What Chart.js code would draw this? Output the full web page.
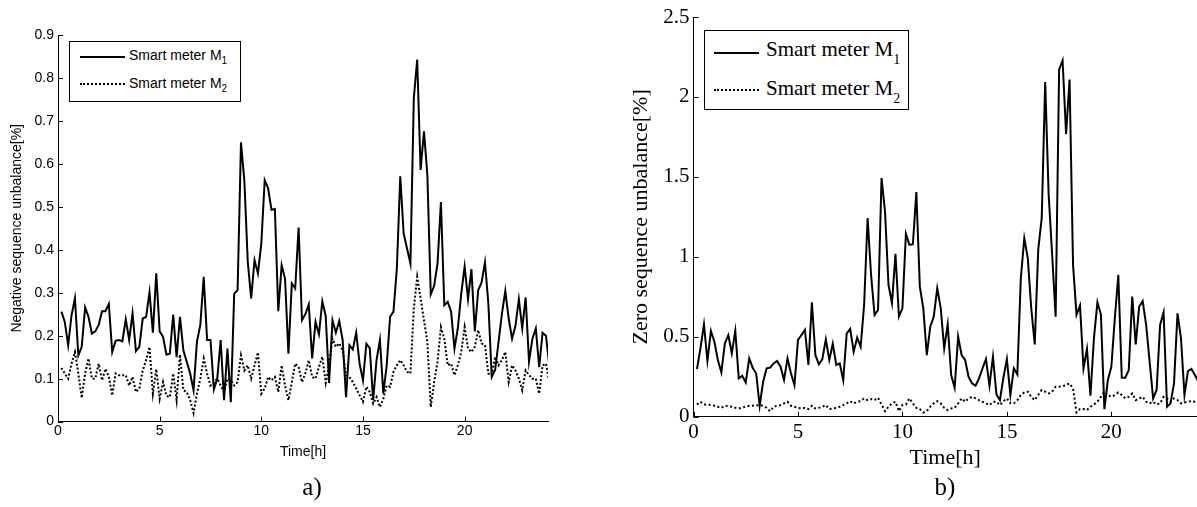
<!DOCTYPE html>
<html>
<head>
<meta charset="utf-8">
<script src="https://cdn.jsdelivr.net/npm/chart.js@4.4.1/dist/chart.umd.min.js"></script>
<style>
  html, body { margin: 0; padding: 0; background: #fff; }
  #wrap { position: relative; width: 1197px; height: 507px; overflow: hidden; background: #fff; }
  canvas { position: absolute; top: 0; }
  #negCanvas { left: 0; }
  #zeroCanvas { left: 600px; }
  .legend { position: absolute; border: 1px solid #000; background: #fff; box-sizing: border-box; color: #000; }
  .legend .swatch { position: absolute; height: 0; border-top: 2px solid #000; }
  .legend .swatch.dot { border-top-style: dotted; }
  .legend .lbl { position: absolute; white-space: nowrap; }
  #legendA { left: 69px; top: 41px; width: 172px; height: 61px; font: 14px "Liberation Sans", Arial, sans-serif; }
  #legendA .lbl { line-height: 18px; }
  #legendA sub { font-size: 10px; vertical-align: -4px; line-height: 0; }
  #legendB { left: 704px; top: 30px; width: 205px; height: 80px; font: 21px "Liberation Serif", "Times New Roman", serif; }
  #legendB .lbl { line-height: 24px; }
  #legendB sub { font-size: 14px; vertical-align: -8px; line-height: 0; }
  .cap { position: absolute; width: 60px; text-align: center; font: 25px "Liberation Serif", "Times New Roman", serif; color: #000; }
</style>
</head>
<body>
<div id="wrap">
  <canvas id="negCanvas" width="560" height="507"></canvas>
  <canvas id="zeroCanvas" width="597" height="507"></canvas>

  <div class="legend" id="legendA">
    <div class="swatch" style="left:10px; width:45px; top:14px;"></div>
    <div class="lbl" style="left:59px; top:4px;">Smart meter M<sub>1</sub></div>
    <div class="swatch dot" style="left:10px; width:45px; top:41px;"></div>
    <div class="lbl" style="left:59px; top:32px;">Smart meter M<sub>2</sub></div>
  </div>

  <div class="legend" id="legendB">
    <div class="swatch" style="left:9px; width:45px; top:21px;"></div>
    <div class="lbl" style="left:61px; top:6px;">Smart meter M<sub>1</sub></div>
    <div class="swatch dot" style="left:9px; width:45px; top:58px;"></div>
    <div class="lbl" style="left:61px; top:45px;">Smart meter M<sub>2</sub></div>
  </div>

  <div class="cap" style="left:282px; top:473px;">a)</div>
  <div class="cap" style="left:915px; top:473px;">b)</div>
</div>

<script>
// x axis: hours of the day, one reading every 10 minutes
const X_MAX = 24.1;
const X_TICKS = [0, 5, 10, 15, 20];
const X_TICK_LABELS = ['0', '5', '10', '15', '20'];

// a) negative sequence unbalance [%]
const NEG_Y_TICKS = [0, 0.1, 0.2, 0.3, 0.4, 0.5, 0.6, 0.7, 0.8, 0.9];
const NEG_Y_LABELS = ['0', '0.1', '0.2', '0.3', '0.4', '0.5', '0.6', '0.7', '0.8', '0.9'];
const NEG_M1 = [
  0.256, 0.232, 0.178, 0.248, 0.287, 0.154, 0.174, 0.266, 0.244, 0.205,
  0.210, 0.225, 0.257, 0.257, 0.274, 0.162, 0.188, 0.190, 0.187, 0.238,
  0.190, 0.252, 0.164, 0.174, 0.240, 0.244, 0.301, 0.207, 0.345, 0.210,
  0.197, 0.156, 0.158, 0.249, 0.150, 0.244, 0.166, 0.139, 0.112, 0.073,
  0.186, 0.225, 0.337, 0.190, 0.190, 0.075, 0.100, 0.190, 0.050, 0.170,
  0.045, 0.298, 0.306, 0.650, 0.560, 0.372, 0.287, 0.376, 0.345, 0.415,
  0.562, 0.543, 0.493, 0.495, 0.257, 0.364, 0.333, 0.158, 0.322, 0.310,
  0.452, 0.236, 0.250, 0.273, 0.147, 0.232, 0.203, 0.280, 0.246, 0.090,
  0.236, 0.207, 0.234, 0.190, 0.057, 0.178, 0.168, 0.207, 0.135, 0.096,
  0.181, 0.171, 0.050, 0.143, 0.190, 0.065, 0.131, 0.244, 0.256, 0.357,
  0.571, 0.438, 0.403, 0.368, 0.753, 0.843, 0.586, 0.676, 0.574, 0.296,
  0.316, 0.368, 0.511, 0.271, 0.279, 0.256, 0.170, 0.218, 0.298, 0.361,
  0.285, 0.355, 0.210, 0.306, 0.324, 0.371, 0.275, 0.104, 0.120, 0.185,
  0.251, 0.304, 0.240, 0.193, 0.223, 0.285, 0.217, 0.289, 0.140, 0.193,
  0.217, 0.127, 0.207, 0.200, 0.130
];
const NEG_M2 = [
  0.125, 0.112, 0.100, 0.135, 0.162, 0.112, 0.055, 0.112, 0.147, 0.100,
  0.100, 0.135, 0.096, 0.123, 0.104, 0.061, 0.112, 0.108, 0.108, 0.108,
  0.084, 0.104, 0.069, 0.077, 0.119, 0.143, 0.174, 0.065, 0.122, 0.053,
  0.092, 0.060, 0.057, 0.112, 0.050, 0.156, 0.073, 0.069, 0.050, 0.020,
  0.065, 0.100, 0.147, 0.112, 0.084, 0.092, 0.100, 0.084, 0.069, 0.100,
  0.096, 0.084, 0.092, 0.154, 0.119, 0.131, 0.100, 0.131, 0.161, 0.065,
  0.077, 0.104, 0.096, 0.104, 0.069, 0.131, 0.084, 0.050, 0.092, 0.135,
  0.127, 0.092, 0.112, 0.143, 0.104, 0.100, 0.127, 0.151, 0.090, 0.131,
  0.193, 0.174, 0.182, 0.166, 0.108, 0.104, 0.092, 0.077, 0.061, 0.046,
  0.081, 0.069, 0.042, 0.057, 0.034, 0.053, 0.084, 0.081, 0.116, 0.131,
  0.143, 0.131, 0.116, 0.112, 0.263, 0.337, 0.287, 0.236, 0.186, 0.034,
  0.092, 0.139, 0.220, 0.193, 0.131, 0.135, 0.108, 0.131, 0.162, 0.220,
  0.170, 0.162, 0.174, 0.213, 0.182, 0.178, 0.112, 0.108, 0.151, 0.131,
  0.143, 0.162, 0.092, 0.131, 0.119, 0.100, 0.073, 0.119, 0.108, 0.100,
  0.100, 0.065, 0.131, 0.135, 0.092
];

// b) zero sequence unbalance [%]
const ZERO_Y_TICKS = [0, 0.5, 1, 1.5, 2, 2.5];
const ZERO_Y_LABELS = ['0', '0.5', '1', '1.5', '2', '2.5'];
const ZERO_M1 = [
  0.299, 0.428, 0.578, 0.349, 0.537, 0.470, 0.355, 0.278, 0.459, 0.511,
  0.397, 0.537, 0.240, 0.257, 0.215, 0.365, 0.307, 0.271, 0.069, 0.219,
  0.303, 0.307, 0.334, 0.349, 0.313, 0.230, 0.365, 0.271, 0.198, 0.480,
  0.511, 0.543, 0.324, 0.716, 0.386, 0.328, 0.361, 0.484, 0.355, 0.457,
  0.324, 0.334, 0.230, 0.522, 0.549, 0.407, 0.495, 0.438, 0.699, 1.242,
  0.887, 0.637, 0.668, 1.493, 1.284, 0.825, 0.710, 1.019, 0.626, 0.678,
  1.144, 1.075, 1.079, 1.405, 0.814, 0.678, 0.386, 0.564, 0.626, 0.804,
  0.680, 0.428, 0.578, 0.261, 0.182, 0.501, 0.386, 0.355, 0.250, 0.209,
  0.194, 0.240, 0.303, 0.361, 0.194, 0.376, 0.140, 0.104, 0.244, 0.361,
  0.136, 0.303, 0.265, 0.866, 1.117, 0.992, 0.678, 0.453, 1.044, 1.242,
  2.094, 1.388, 1.013, 0.626, 2.171, 2.228, 1.768, 2.109, 0.950, 0.637,
  0.695, 0.303, 0.424, 0.132, 0.491, 0.716, 0.641, 0.048, 0.230, 0.313,
  0.616, 0.887, 0.244, 0.244, 0.292, 0.752, 0.453, 0.689, 0.724, 0.574,
  0.344, 0.115, 0.167, 0.574, 0.653, 0.063, 0.084, 0.209, 0.647, 0.491,
  0.136, 0.286, 0.299, 0.261, 0.220
];
const ZERO_M2 = [
  0.077, 0.094, 0.077, 0.077, 0.073, 0.069, 0.063, 0.056, 0.069, 0.067,
  0.063, 0.056, 0.052, 0.058, 0.063, 0.069, 0.069, 0.073, 0.073, 0.069,
  0.056, 0.035, 0.063, 0.069, 0.073, 0.084, 0.094, 0.069, 0.063, 0.056,
  0.052, 0.056, 0.048, 0.069, 0.052, 0.056, 0.063, 0.073, 0.048, 0.052,
  0.056, 0.063, 0.073, 0.084, 0.098, 0.084, 0.094, 0.098, 0.115, 0.104,
  0.111, 0.104, 0.119, 0.077, 0.035, 0.063, 0.084, 0.094, 0.035, 0.073,
  0.077, 0.115, 0.084, 0.056, 0.048, 0.027, 0.035, 0.063, 0.084, 0.098,
  0.084, 0.056, 0.042, 0.052, 0.056, 0.084, 0.115, 0.094, 0.115, 0.125,
  0.115, 0.104, 0.094, 0.084, 0.073, 0.094, 0.094, 0.073, 0.098, 0.115,
  0.084, 0.084, 0.104, 0.136, 0.152, 0.157, 0.125, 0.104, 0.136, 0.167,
  0.157, 0.146, 0.157, 0.188, 0.188, 0.192, 0.198, 0.209, 0.177, 0.027,
  0.048, 0.048, 0.042, 0.063, 0.077, 0.094, 0.125, 0.157, 0.136, 0.125,
  0.136, 0.152, 0.136, 0.115, 0.125, 0.146, 0.104, 0.115, 0.125, 0.094,
  0.084, 0.094, 0.077, 0.084, 0.125, 0.115, 0.094, 0.115, 0.104, 0.084,
  0.090, 0.094, 0.098, 0.094, 0.094
];

const STEP_H = 1 / 6;
const TIME_H = NEG_M1.map((_, k) => (k + 1) * STEP_H);

// short tick marks pointing into the plot, like the old MATLAB figures
const tickMarks = {
  id: 'tickMarks',
  afterDraw(chart, args, opts) {
    const { ctx, chartArea: area, scales: { x, y } } = chart;
    const len = opts.length || 5;
    ctx.save();
    ctx.strokeStyle = '#000';
    ctx.lineWidth = 1;
    ctx.beginPath();
    x.ticks.forEach(t => {
      const px = Math.round(x.getPixelForValue(t.value)) + 0.5;
      ctx.moveTo(px, area.bottom);
      ctx.lineTo(px, area.bottom - len);
    });
    y.ticks.forEach(t => {
      const py = Math.round(y.getPixelForValue(t.value)) + 0.5;
      ctx.moveTo(area.left, py);
      ctx.lineTo(area.left + len, py);
    });
    ctx.stroke();
    ctx.restore();
  }
};

function makeChart(id, cfg) {
  return new Chart(document.getElementById(id), {
    type: 'line',
    data: {
      labels: TIME_H,
      datasets: [
        { label: 'Smart meter M1', data: cfg.m1, borderColor: '#000', borderWidth: 2,
          pointRadius: 0, tension: 0, fill: false },
        { label: 'Smart meter M2', data: cfg.m2, borderColor: '#000', borderWidth: 2,
          borderDash: cfg.dash, pointRadius: 0, tension: 0, fill: false }
      ]
    },
    options: {
      responsive: false,
      animation: false,
      events: [],
      layout: { padding: cfg.padding },
      plugins: {
        legend: { display: false },
        tooltip: { enabled: false },
        tickMarks: { length: 5 }
      },
      scales: {
        x: {
          type: 'linear',
          min: 0,
          max: X_MAX,
          afterBuildTicks: s => { s.ticks = X_TICKS.map(v => ({ value: v })); },
          afterFit: s => { s.height = cfg.xAxisHeight; },
          grid: { display: false, drawTicks: false },
          border: { display: true, color: '#000', width: 1 },
          ticks: {
            color: '#000', font: cfg.tickFont, padding: cfg.xTickPad,
            maxRotation: 0, autoSkip: false,
            callback: (v, i) => X_TICK_LABELS[i]
          },
          title: { display: true, text: 'Time[h]', color: '#000', font: cfg.titleFont, padding: 0 }
        },
        y: {
          type: 'linear',
          min: 0,
          max: cfg.yMax,
          afterBuildTicks: s => { s.ticks = cfg.yTicks.map(v => ({ value: v })); },
          afterFit: s => { s.width = cfg.yAxisWidth; },
          grid: { display: false, drawTicks: false },
          border: { display: true, color: '#000', width: 1 },
          ticks: {
            color: '#000', font: cfg.tickFont, padding: cfg.yTickPad, autoSkip: false,
            callback: (v, i) => cfg.yLabels[i]
          },
          title: {
            display: true, text: cfg.yTitle, color: '#000', font: cfg.titleFont,
            padding: { top: cfg.yTitlePad, bottom: 0 }
          }
        }
      }
    },
    plugins: [tickMarks]
  });
}

const SANS = '"Liberation Sans", Arial, sans-serif';
const SERIF = '"Liberation Serif", "Times New Roman", serif';

makeChart('negCanvas', {
  m1: NEG_M1, m2: NEG_M2, dash: [2, 2],
  yMax: 0.9, yTicks: NEG_Y_TICKS, yLabels: NEG_Y_LABELS,
  yTitle: 'Negative sequence unbalance[%]',
  padding: { left: 0, top: 35, right: 12, bottom: 46 },
  yAxisWidth: 58, xAxisHeight: 39.4,
  xTickPad: 1, yTickPad: 4, yTitlePad: 9,
  tickFont: { family: SANS, size: 14 },
  titleFont: { family: SANS, size: 14 }
});

makeChart('zeroCanvas', {
  m1: ZERO_M1, m2: ZERO_M2, dash: [2, 2.5],
  yMax: 2.5, yTicks: ZERO_Y_TICKS, yLabels: ZERO_Y_LABELS,
  yTitle: 'Zero sequence unbalance[%]',
  padding: { left: 0, top: 17, right: 0, bottom: 36 },
  yAxisWidth: 93.5, xAxisHeight: 54.2,
  xTickPad: 3, yTickPad: 4, yTitlePad: 28,
  tickFont: { family: SERIF, size: 21 },
  titleFont: { family: SERIF, size: 22 }
});
</script>
</body>
</html>
